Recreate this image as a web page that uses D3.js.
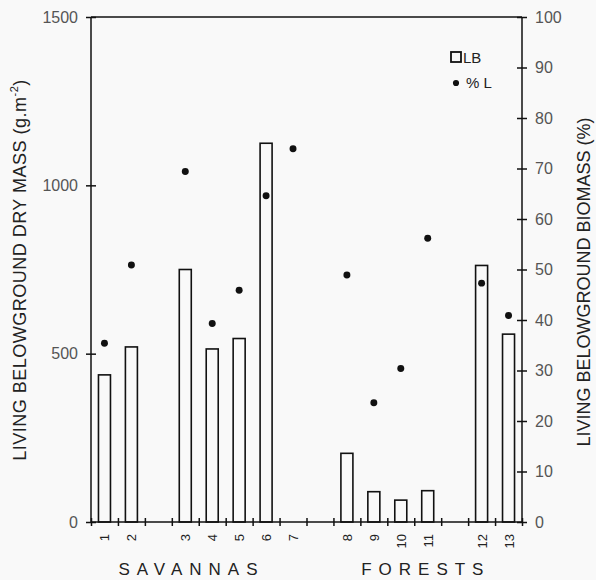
<!DOCTYPE html>
<html lang="en">
    <head>
        <meta charset="utf-8">
        <title>Living belowground biomass</title>
        <script src="https://cdn.jsdelivr.net/npm/d3@7"></script>
        <style type="text/css">
            body { margin: 0; background: #f9f9f9; }
            .axis path, .axis line { fill: none; stroke: #111; stroke-width: 1.5px; }
            .axis text { font-family: Arial, "Liberation Sans", sans-serif; font-size: 16px; fill: #555; }
            .title { font-family: Arial, "Liberation Sans", sans-serif; fill: #222; }
        </style>
    </head>
    <body>
        <script type="text/javascript">
            // slots along the x axis; blanks are the gaps between site groups
            const slots = ["1", "2", "", "3", "4", "5", "6", "7", "", "8", "9", "10", "11", "", "12", "13"]
            const sites = ["1", "2", "3", "4", "5", "6", "7", "8", "9", "10", "11", "12", "13"]
            const lb = [437, 520, 750, 514, 545, 1125, null, 204, 90, 65, 93, 762, 558]
            const pctL = [35.4, 50.9, 69.4, 39.3, 45.9, 64.6, 73.9, 48.9, 23.6, 30.4, 56.2, 47.3, 40.9]
            const leftTicks = [0, 500, 1000, 1500]
            const rightTicks = [0, 10, 20, 30, 40, 50, 60, 70, 80, 90, 100]
            // group name and its centre, in slot units
            const groups = [["SAVANNAS", 3.6], ["FORESTS", 12.3]]

            const w = 596
            const h = 580
            const m = { left: 91, right: 74, top: 17, bottom: 58 }

            const svg = d3.select("body").append("svg")
                .attr("width", w)
                .attr("height", h)

            // slot index of each site
            const slotIdx = []
            slots.forEach((s, i) => { if (s !== "") slotIdx.push(i) })

            const xLin = d3.scaleLinear()
                .domain([0, slots.length])
                .range([m.left, w - m.right])
            const barW = 12
            const cx = i => xLin(slotIdx[i] + 0.5)

            const yL = d3.scaleLinear().domain([0, 1500]).range([h - m.bottom, m.top])
            const yR = d3.scaleLinear().domain([0, 100]).range([h - m.bottom, m.top])

            // top frame line
            svg.append("line")
                .attr("x1", m.left).attr("x2", w - m.right)
                .attr("y1", m.top).attr("y2", m.top)
                .attr("stroke", "#111").attr("stroke-width", 1.5)

            // bars
            svg.selectAll("rect.bar")
                .data(lb.map((v, i) => [v, i]).filter(d => d[0] != null))
                .enter().append("rect")
                .attr("class", "bar")
                .attr("x", d => cx(d[1]) - barW / 2)
                .attr("y", d => yL(d[0]))
                .attr("width", barW)
                .attr("height", d => yL(0) - yL(d[0]))
                .attr("fill", "none")
                .attr("stroke", "#111")
                .attr("stroke-width", 1.6)

            // % L points
            svg.selectAll("path.dot")
                .data(pctL)
                .enter().append("path")
                .attr("class", "dot")
                .attr("d", d3.symbol().type(d3.symbolCircle).size(38))
                .attr("transform", (d, i) => `translate(${cx(i)}, ${yR(d)})`)
                .attr("fill", "#111")

            // left axis
            svg.append("g")
                .attr("class", "axis")
                .attr("transform", `translate(${m.left}, 0)`)
                .call(d3.axisLeft(yL).tickValues(leftTicks).tickSize(5).tickPadding(8).tickFormat(d3.format("d")))
                .call(g => g.select(".domain").remove())
                .call(g => g.selectAll(".tick line").attr("x2", -5).attr("x1", 5))
            svg.append("line")
                .attr("x1", m.left).attr("x2", m.left)
                .attr("y1", m.top).attr("y2", h - m.bottom)
                .attr("stroke", "#111").attr("stroke-width", 1.5)

            // right axis
            svg.append("g")
                .attr("class", "axis")
                .attr("transform", `translate(${w - m.right}, 0)`)
                .call(d3.axisRight(yR).tickValues(rightTicks).tickSize(5).tickPadding(8))
                .call(g => g.select(".domain").remove())
                .call(g => g.selectAll(".tick line").attr("x1", -5).attr("x2", 5))
            svg.append("line")
                .attr("x1", w - m.right).attr("x2", w - m.right)
                .attr("y1", m.top).attr("y2", h - m.bottom)
                .attr("stroke", "#111").attr("stroke-width", 1.5)

            // bottom axis: tick marks at slot boundaries
            svg.append("g")
                .attr("class", "axis")
                .attr("transform", `translate(0, ${h - m.bottom})`)
                .call(d3.axisBottom(xLin).tickValues(d3.range(0, slots.length + 1)).tickSize(4).tickFormat(""))
                .call(g => g.select(".domain").attr("d", `M${m.left},0H${w - m.right}`))
                .call(g => g.selectAll(".tick line").attr("y1", -4).attr("y2", 4))

            // site labels, rotated
            svg.selectAll("text.site")
                .data(sites)
                .enter().append("text")
                .attr("class", "title")
                .attr("transform", (d, i) => `translate(${cx(i) + 5}, ${h - m.bottom + 12}) rotate(-90)`)
                .attr("text-anchor", "end")
                .attr("font-size", 13)
                .attr("fill", "#555")
                .text(d => d)

            // group labels
            const spacing = 7
            svg.selectAll("text.group")
                .data(groups)
                .enter().append("text")
                .attr("class", "title")
                .attr("x", d => xLin(d[1]) + spacing / 2)
                .attr("y", 575)
                .attr("text-anchor", "middle")
                .attr("font-size", 17)
                .attr("letter-spacing", spacing + "px")
                .attr("fill", "#333")
                .text(d => d[0])

            // axis titles
            const lt = svg.append("text")
                .attr("class", "title")
                .attr("transform", `translate(26, 270) rotate(-90)`)
                .attr("text-anchor", "middle")
                .attr("font-size", 18)
                .attr("letter-spacing", "0.5px")
                .text("LIVING BELOWGROUND DRY MASS (g.m")
            lt.append("tspan").attr("dy", -8).attr("font-size", 11).text("-2")
            lt.append("tspan").attr("dy", 8).text(")")

            svg.append("text")
                .attr("class", "title")
                .attr("transform", `translate(590, 282) rotate(-90)`)
                .attr("text-anchor", "middle")
                .attr("font-size", 18)
                .text("LIVING BELOWGROUND BIOMASS (%)")

            // legend
            const lg = svg.append("g").attr("transform", "translate(451, 52)")
            lg.append("rect").attr("width", 10).attr("height", 10)
                .attr("fill", "none").attr("stroke", "#111").attr("stroke-width", 1.8)
            lg.append("text").attr("class", "title").attr("x", 12).attr("y", 11)
                .attr("font-size", 15).attr("fill", "#333").text("LB")
            lg.append("path").attr("d", d3.symbol().type(d3.symbolCircle).size(30))
                .attr("transform", "translate(5, 31)").attr("fill", "#111")
            lg.append("text").attr("class", "title").attr("x", 15).attr("y", 36)
                .attr("font-size", 15).attr("fill", "#333").text("% L")
        </script>
    </body>
</html>
